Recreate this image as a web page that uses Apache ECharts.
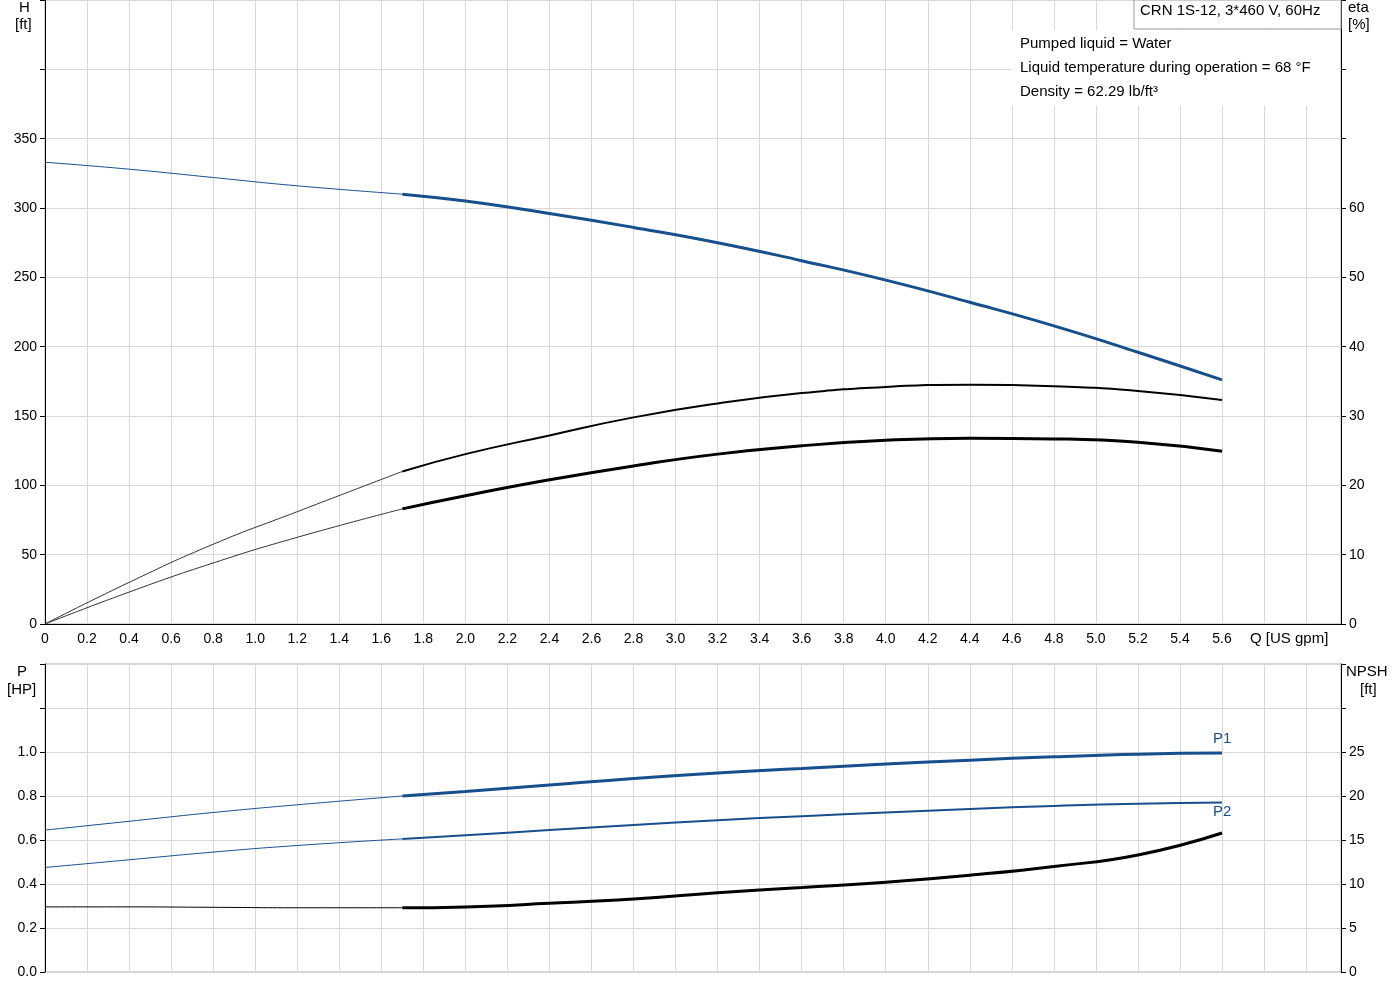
<!DOCTYPE html>
<html><head><meta charset="utf-8">
<script src="https://cdn.jsdelivr.net/npm/echarts@6/dist/echarts.min.js"></script>
<style>html,body{margin:0;background:#fff}#c{width:1400px;height:1000px}</style>
</head><body><div id="c"></div>
<script>
const qThin=[0,0.4,0.8,1.2,1.7];
const qThick=[1.7,2.0,2.4,2.8,3.2,3.6,4.0,4.4,4.8,5.2,5.6];
const hThin=[333,328,322,316,310];
const hThick=[310,305,296,286,275,262,248,232,215,196,176];
const eta1Thin=[0,6,11.5,16.2,22];
const eta1Thick=[22,24.5,27.2,29.8,31.8,33.3,34.2,34.5,34.3,33.6,32.3];
const eta2Thin=[0,4.6,8.8,12.5,16.6];
const eta2Thick=[16.6,18.5,20.8,22.8,24.5,25.7,26.5,26.8,26.7,26.2,24.9];
const p1Thin=[0.645,0.685,0.725,0.76,0.80];
const p1Thick=[0.80,0.82,0.85,0.88,0.905,0.925,0.945,0.963,0.978,0.99,0.995];
const p2Thin=[0.475,0.51,0.545,0.575,0.605];
const p2Thick=[0.605,0.622,0.645,0.668,0.69,0.708,0.725,0.741,0.755,0.765,0.77];
const npshThin=[7.4,7.4,7.35,7.3,7.3];
const npshThick=[7.3,7.4,7.8,8.3,9.0,9.6,10.2,11.0,12.0,13.3,15.8];
const BLUE='#174f8c', BLACK='#000';
const pts=(q,v)=>q.map((x,i)=>[x,v[i]]);
const ch=echarts.init(document.getElementById('c'));
const F='Arial, Liberation Sans, sans-serif';
const xa=(gi,show)=>({type:'value',gridIndex:gi,min:0,max:6.166,interval:0.2,
  axisLine:{show:gi==0,lineStyle:{color:'#000'}},axisTick:{show:false},
  axisLabel:{show:show,color:'#000',fontSize:14,fontFamily:F,formatter:v=>v>5.61?'':(v==0?'0':v.toFixed(1))},
  splitLine:{lineStyle:{color:'#d8d8d8'}}});
const ya=(gi,max,iv,lim,pos,dec,split)=>({type:'value',gridIndex:gi,min:0,max:max,interval:iv,position:pos,
  axisLine:{show:true,lineStyle:{color:'#000'}},axisTick:{show:true,length:5},
  axisLabel:{color:'#000',fontSize:14,fontFamily:F,formatter:v=>v>lim+1e-6?'':v.toFixed(dec)},
  splitLine:{show:split,lineStyle:{color:'#d8d8d8'}}});
const line=(xi,yi,d,c,w)=>({type:'line',xAxisIndex:xi,yAxisIndex:yi,data:d,smooth:0.5,showSymbol:false,
  lineStyle:{color:c,width:w},silent:true});
const txt=(x,y,s,fill)=>({type:'text',z:101,left:x,top:y,style:{text:s,fill:fill||'#000',font:'15px '+F}});
ch.setOption({
  animation:false,
  grid:[{left:45,right:59,top:0,bottom:376,show:true,borderColor:'#aaa'},
        {left:45,right:59,top:664,bottom:28,show:true,borderColor:'#aaa'}],
  xAxis:[xa(0,true),xa(1,false)],
  yAxis:[ya(0,450,50,350,'left',0,true),ya(0,90,10,60,'right',0,false),
         ya(1,1.4,0.2,1.0,'left',1,true),ya(1,35,5,25,'right',0,false)],
  series:[
    line(0,0,pts(qThin,hThin),BLUE,1),line(0,0,pts(qThick,hThick),BLUE,3),
    line(0,1,pts(qThin,eta1Thin),'#333',1),line(0,1,pts(qThick,eta1Thick),BLACK,2),
    line(0,1,pts(qThin,eta2Thin),'#333',1),line(0,1,pts(qThick,eta2Thick),BLACK,3),
    line(1,2,pts(qThin,p1Thin),BLUE,1),line(1,2,pts(qThick,p1Thick),BLUE,3),
    line(1,2,pts(qThin,p2Thin),BLUE,1),line(1,2,pts(qThick,p2Thick),BLUE,2),
    line(1,3,pts(qThin,npshThin),BLACK,1),line(1,3,pts(qThick,npshThick),BLACK,3)
  ],
  graphic:[
    {type:'rect',z:100,shape:{x:1134,y:0,width:207,height:29},style:{fill:'#fff',stroke:'#999'}},
    txt(1140,3,'CRN 1S-12, 3*460 V, 60Hz'),
    {type:'rect',z:100,shape:{x:1012,y:30,width:328,height:76},style:{fill:'#fff'}},
    txt(1020,36,'Pumped liquid = Water'),
    txt(1020,60,'Liquid temperature during operation = 68 °F'),
    txt(1020,84,'Density = 62.29 lb/ft³'),
    txt(19,0,'H'),txt(15,17,'[ft]'),
    txt(1348,0,'eta'),txt(1348,17,'[%]'),
    txt(1250,631,'Q [US gpm]'),
    txt(17,664,'P'),txt(7,682,'[HP]'),
    txt(1346,664,'NPSH'),txt(1360,682,'[ft]'),
    txt(1213,731,'P1',BLUE),txt(1213,804,'P2',BLUE)
  ]
});
</script></body></html>
